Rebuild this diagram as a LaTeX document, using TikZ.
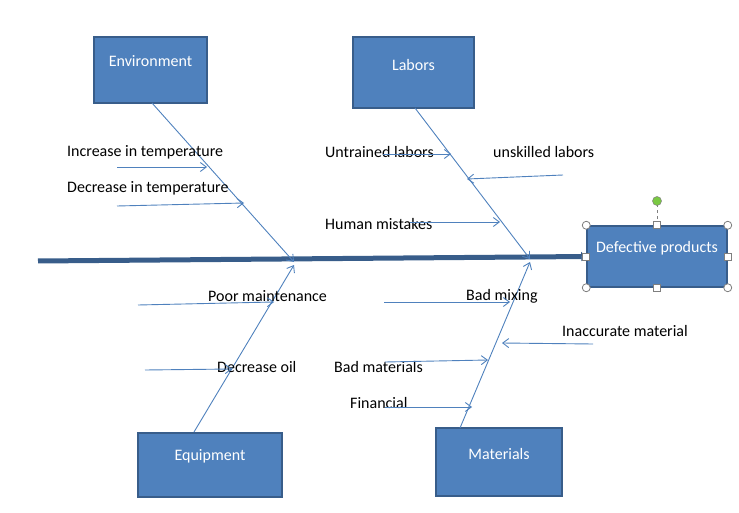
\documentclass[tikz,border=0pt]{standalone}
\usepackage{fontspec}
\setmainfont{Carlito}
\usetikzlibrary{arrows.meta}
\definecolor{boxfill}{HTML}{4F81BD}
\definecolor{boxedge}{HTML}{385D8A}
\definecolor{bone}{HTML}{4F81BD}
\definecolor{handle}{HTML}{7F7F7F}
\definecolor{rotgreen}{HTML}{7AC943}
\tikzset{
  box/.style={draw=boxedge, line width=2.5pt, fill=boxfill, inner sep=0pt},
  boxtext/.style={text=white, font=\fontsize{16}{18}\selectfont, inner sep=0pt},
  lbl/.style={text=black, font=\fontsize{16}{18}\selectfont, inner sep=0pt, anchor=west},
  bonearrow/.style={draw=bone, line width=0.9pt, -{Straight Barb[length=6pt,width=9pt]}},
  spine/.style={draw=boxedge, line width=5pt},
  hcirc/.style={circle, draw=handle, fill=white, line width=0.8pt, minimum size=8pt, inner sep=0pt},
  hsq/.style={rectangle, draw=handle, fill=white, line width=0.8pt, minimum size=7pt, inner sep=0pt},
}
\begin{document}
\begin{tikzpicture}[x=1pt,y=-1pt]
\useasboundingbox (0,0) rectangle (739,513);

% boxes
\node[box, minimum width=113pt, minimum height=66pt] (env) at (150.5,70) {};
\node[boxtext] (envt) at (150.5,61) {Environment};
\node[box, minimum width=121pt, minimum height=71pt] (lab) at (413.5,72.5) {};
\node[boxtext] (labt) at (413.5,65) {Labors};
\node[box, minimum width=144pt, minimum height=64pt] (equ) at (210,465) {};
\node[boxtext] (equt) at (210,456) {Equipment};
\node[box, minimum width=126pt, minimum height=68pt] (mat) at (499,462) {};
\node[boxtext] (matt) at (499,454) {Materials};
\node[box, line width=1.5pt, minimum width=140pt, minimum height=61pt] (def) at (657,256.5) {};
\node[boxtext] (deft) at (657,248) {Defective products};

% spine
\coordinate (spL) at (38,261);
\draw[spine, -{Triangle[length=5pt,width=9pt]}] (spL) -- (def.west);

% bone end points on spine
\coordinate (envE) at (294,262);
\coordinate (labE) at (530,259);
\coordinate (equE) at (294,265);
\coordinate (matE) at (530,262);

\draw[bonearrow] (152,103) coordinate (envS) -- (envE);
\draw[bonearrow] (415,108) coordinate (labS) -- (labE);
\draw[bonearrow] (194,432) coordinate (equS) -- (equE);
\draw[bonearrow] (460,428) coordinate (matS) -- (matE);

% labels
\node[lbl] (l1) at (67,152) {Increase in temperature};
\node[lbl] (l2) at (67,188) {Decrease in temperature};
\node[lbl] (l3) at (325,152) {Untrained labors};
\node[lbl] (l4) at (493,152) {unskilled labors};
\node[lbl] (l5) at (325,224) {Human mistakes};
\node[lbl] (l6) at (208,296) {Poor maintenance};
\node[lbl] (l7) at (217,367) {Decrease oil};
\node[lbl] (l8) at (466,296) {Bad mixing};
\node[lbl] (l9) at (562,331) {Inaccurate material};
\node[lbl] (l10) at (334,367) {Bad materials};
\node[lbl] (l11) at (350,403) {Financial};

% sub arrows
\coordinate (a1s) at (117,167); \coordinate (a1e) at (207,167);
\coordinate (a2s) at (117,206); \coordinate (a2e) at (244,203);
\coordinate (a3s) at (383,154); \coordinate (a3e) at (451,154);
\coordinate (a4s) at (563,175); \coordinate (a4e) at (467,179);
\coordinate (a5s) at (410,222); \coordinate (a5e) at (500,222);
\coordinate (a6s) at (138,305); \coordinate (a6e) at (274,302);
\coordinate (a7s) at (145,370); \coordinate (a7e) at (232,369);
\coordinate (a8s) at (384,302); \coordinate (a8e) at (510,302);
\coordinate (a9s) at (593,344); \coordinate (a9e) at (502,343);
\coordinate (a10s) at (385,362); \coordinate (a10e) at (488,360);
\coordinate (a11s) at (385,407); \coordinate (a11e) at (472,407);
\foreach \i in {1,...,11} { \draw[bonearrow] (a\i s) -- (a\i e); }

% selection handles
\draw[handle, dashed, line width=0.6pt] (def.north) -- (657,205);
\node[circle, fill=rotgreen, draw=handle, line width=0.5pt, minimum size=9pt, inner sep=0pt] (rot) at (657,201) {};
\node[hcirc] (h1) at (def.north west) {};
\node[hcirc] (h2) at (def.north east) {};
\node[hcirc] (h3) at (def.south west) {};
\node[hcirc] (h4) at (def.south east) {};
\node[hsq] (h5) at (def.north) {};
\node[hsq] (h6) at (def.south) {};
\node[hsq] (h7) at (def.west) {};
\node[hsq] (h8) at (def.east) {};
\end{tikzpicture}
\end{document}
